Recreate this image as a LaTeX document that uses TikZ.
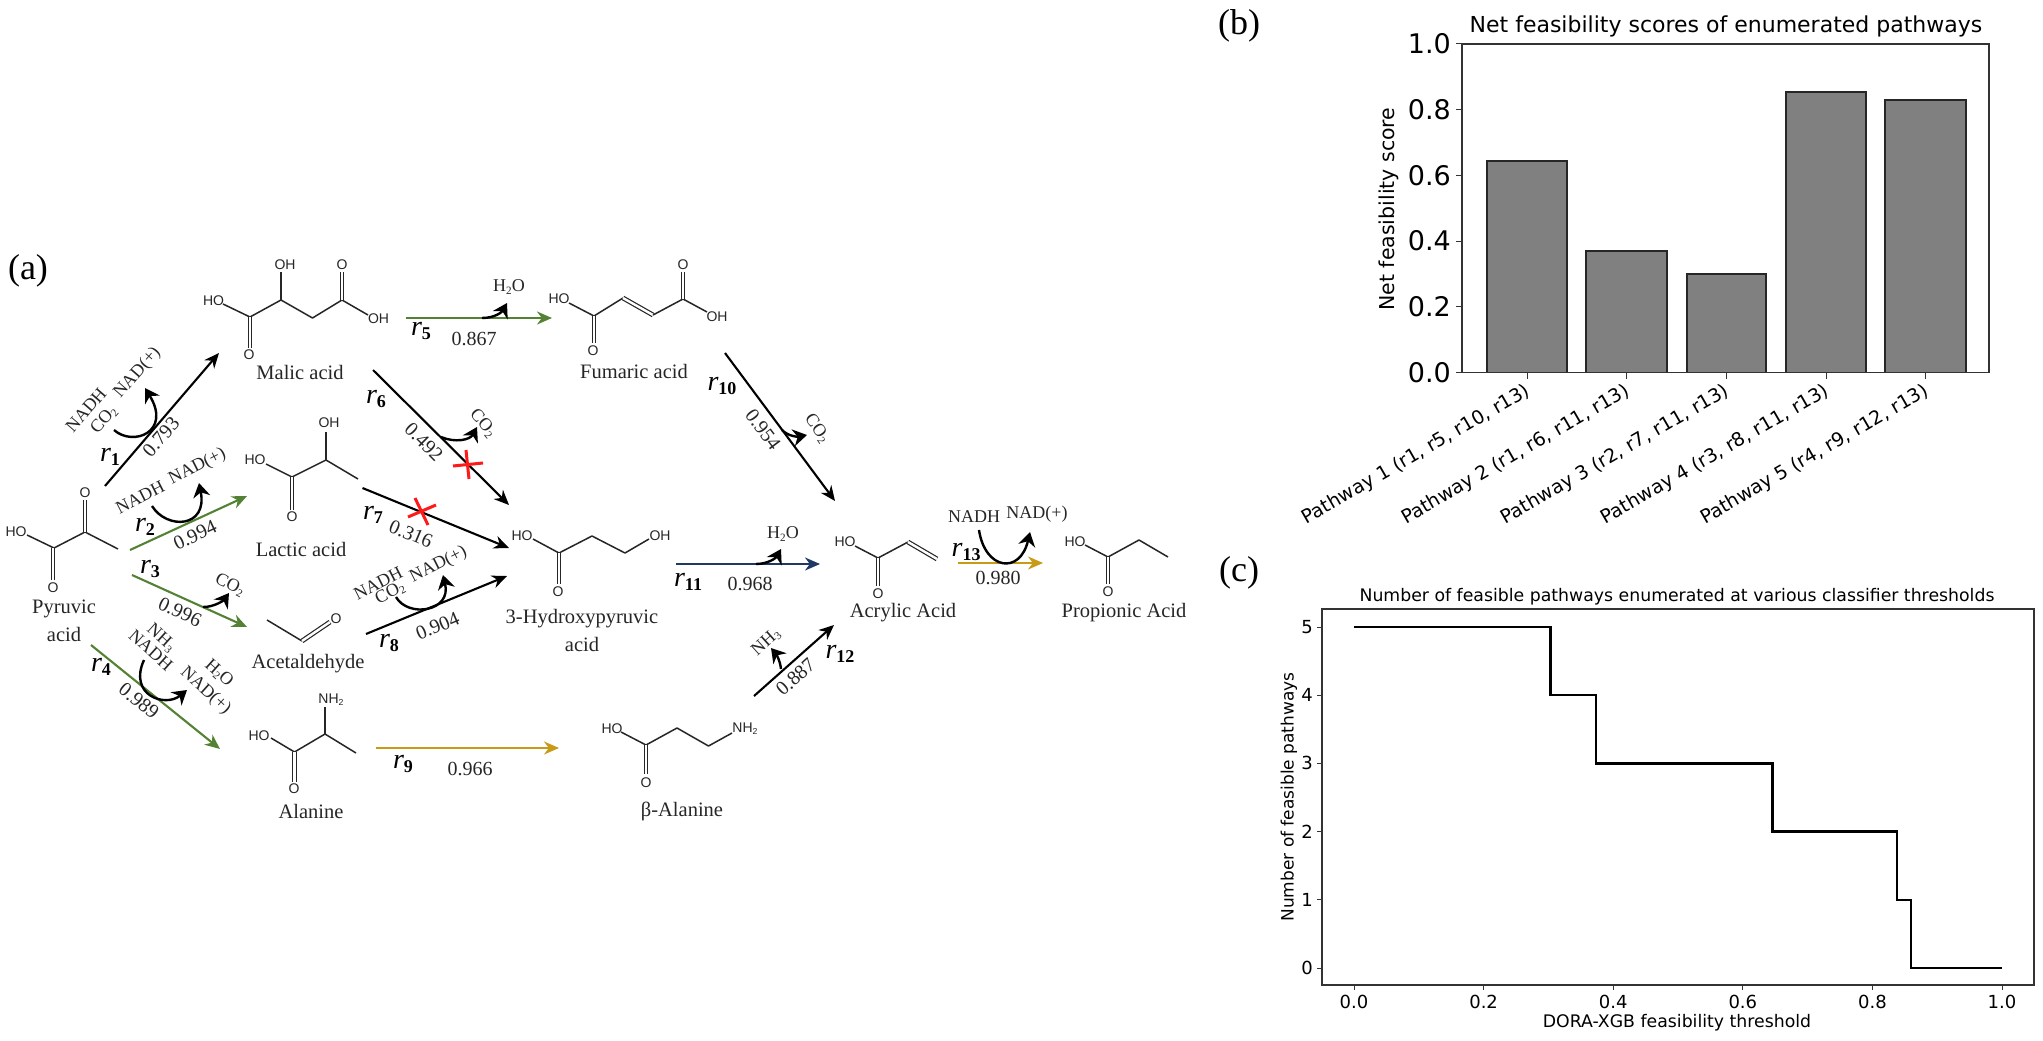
\documentclass[tikz,border=0pt]{standalone}
\usepackage{fontspec}
\setmainfont{Liberation Serif}
\newfontfamily\atomfont{Liberation Sans}
\newfontfamily\chartfont{DejaVu Sans}
\usetikzlibrary{arrows.meta}
\definecolor{rgreen}{HTML}{548235}
\definecolor{rgold}{HTML}{C89B17}
\definecolor{rnavy}{HTML}{1F3864}
\definecolor{rred}{HTML}{FF1A1A}
\definecolor{ink}{HTML}{262626}
\definecolor{barfill}{HTML}{808080}
\newcount\nid
\newcommand{\lab}[5]{\global\advance\nid by 1 \node[#1,rotate=#4] (n\the\nid) at (#2,#3) {#5};}
\newcommand{\lsub}[1]{\raisebox{-.28ex}{\scalebox{.62}{#1}}}
\newcommand{\rlab}[3]{\global\advance\nid by 1 \node[rname] (n\the\nid) at (#1,#2) {\textit{r}\raisebox{-.35ex}{\fontsize{18}{20}\selectfont\bfseries #3}};}
\newcommand{\rxn}[6]{\coordinate (#1a) at (#3,#4); \coordinate (#1b) at (#5,#6); \draw[rarrow,#2] (#1a) -- (#1b);}
\tikzset{
  rarrow/.style={line width=2.1pt,-{Stealth[length=15pt,width=13pt]}},
  carrow/.style={line width=2.4pt,-{Stealth[length=14pt,width=17pt]},black},
  bond/.style={line width=1.5pt,ink,line join=round},
  dbond/.style={bond,double,double distance=2.4pt,line width=1.2pt},
  atom/.style={font=\atomfont\fontsize{14}{15}\selectfont,inner sep=0pt,text=ink},
  cname/.style={font=\fontsize{20.5}{23}\selectfont,inner sep=0pt,text=ink},
  num/.style={font=\fontsize{20}{22}\selectfont,inner sep=0pt,text=ink},
  sp/.style={font=\fontsize{18}{20}\selectfont,inner sep=0pt,text=ink},
  rname/.style={font=\fontsize{28}{30}\selectfont,inner sep=0pt,text=black},
  panel/.style={font=\fontsize{36}{38}\selectfont,inner sep=0pt,text=black},
  cross/.style={line width=3pt,rred},
  spine/.style={line width=1.2pt,black!80},
  tick/.style={line width=1pt,black!80},
  bartick/.style={font=\chartfont\fontsize{27}{29}\selectfont,inner sep=0pt,text=black},
  tit/.style={font=\chartfont\fontsize{22}{24}\selectfont,inner sep=0pt,text=black},
  xrot/.style={font=\chartfont\fontsize{19}{21}\selectfont,inner sep=0pt,text=black,anchor=north east},
  ax/.style={font=\chartfont\fontsize{18}{20}\selectfont,inner sep=0pt,text=black},
  axt/.style={font=\chartfont\fontsize{17.3}{19}\selectfont,inner sep=0pt,text=black},
  bar/.style={fill=barfill,draw=black!85,line width=1.3pt},
  stepline/.style={line width=2.4pt,black,line join=miter},
}
\begin{document}
\begin{tikzpicture}[x=1pt,y=-1pt]
\useasboundingbox (0,0) rectangle (2043,1041);
\fill[white] (0,0) rectangle (2043,1041);
% panel letters
\lab{panel}{28}{271}{0}{(a)}
\lab{panel}{1239}{26}{0}{(b)}
\lab{panel}{1239}{573}{0}{(c)}

% Pyruvic acid
\draw[bond] (27,535) -- (54,548);
\draw[bond] (54,548) -- (85,532) -- (118,549);
\draw[dbond] (85,532) -- (85,500);
\draw[dbond] (53,548) -- (53,580);
\lab{atom}{16}{532}{0}{HO}
\lab{atom}{85}{493}{0}{O}
\lab{atom}{53}{588}{0}{O}
\lab{cname}{64}{609}{0}{Pyruvic}
\lab{cname}{64}{634}{0}{acid}

% Malic acid
\draw[bond] (223,304) -- (250,317) -- (281,300) -- (312.5,318) -- (342,300) -- (368,315);
\draw[bond] (281,300) -- (281,272);
\draw[dbond] (342,300) -- (342,272);
\draw[dbond] (250,317) -- (250,348);
\lab{atom}{213.5}{301}{0}{HO}
\lab{atom}{285}{265}{0}{OH}
\lab{atom}{342}{265}{0}{O}
\lab{atom}{378.5}{319}{0}{OH}
\lab{atom}{249}{355}{0}{O}
\lab{cname}{300}{372}{0}{Malic acid}

% Lactic acid
\draw[bond] (266,464) -- (292,477) -- (326,460) -- (358,479);
\draw[bond] (326,460) -- (326,432);
\draw[dbond] (292,477) -- (292,510);
\lab{atom}{255}{460}{0}{HO}
\lab{atom}{329}{423}{0}{OH}
\lab{atom}{292}{517}{0}{O}
\lab{cname}{301}{549}{0}{Lactic acid}

% Acetaldehyde
\draw[bond] (267,620) -- (302,641);
\draw[dbond] (302,641) -- (330,622);
\lab{atom}{336}{619}{0}{O}
\lab{cname}{308}{664}{0}{Acetaldehyde}

% Alanine
\draw[bond] (271,738) -- (294.5,752) -- (325,734) -- (356,753);
\draw[bond] (325,734) -- (325,707);
\draw[dbond] (294.5,752) -- (294.5,782);
\lab{atom}{259}{736}{0}{HO}
\lab{atom}{331}{700}{0}{NH\lsub{2}}
\lab{atom}{294}{789}{0}{O}
\lab{cname}{311}{811}{0}{Alanine}

% Fumaric acid
\draw[bond] (569,303) -- (594,316);
\draw[bond] (594,316) -- (623,298);
\draw[dbond] (623,298) -- (653,315);
\draw[bond] (653,315) -- (683,299) -- (707,312);
\draw[dbond] (683,299) -- (683,272);
\draw[dbond] (594,316) -- (594,343);
\lab{atom}{559}{299}{0}{HO}
\lab{atom}{683}{265}{0}{O}
\lab{atom}{717}{317}{0}{OH}
\lab{atom}{593}{351}{0}{O}
\lab{cname}{634}{371}{0}{Fumaric acid}

% 3-Hydroxypyruvic acid
\draw[bond] (533,539) -- (559,553) -- (592,536) -- (625,553) -- (649,539);
\draw[dbond] (559,553) -- (559,584);
\lab{atom}{522}{536}{0}{HO}
\lab{atom}{660}{536}{0}{OH}
\lab{atom}{558}{592}{0}{O}
\lab{cname}{582}{619}{0}{3-Hydroxypyruvic}
\lab{cname}{582}{644}{0}{acid}

% beta-Alanine
\draw[bond] (621,732) -- (646,745) -- (677,728) -- (708.5,746) -- (732,733);
\draw[dbond] (646,745) -- (646,774);
\lab{atom}{612}{729}{0}{HO}
\lab{atom}{745}{729}{0}{NH\lsub{2}}
\lab{atom}{646}{783}{0}{O}
\lab{cname}{682}{811}{0}{β-Alanine}

% Acrylic acid
\draw[bond] (855,546) -- (878,558) -- (908,542);
\draw[dbond] (908,542) -- (937,559);
\draw[dbond] (878,558) -- (878,586);
\lab{atom}{845}{542}{0}{HO}
\lab{atom}{878}{594}{0}{O}
\lab{cname}{903}{613}{0}{Acrylic Acid}

% Propionic acid
\draw[bond] (1085,545) -- (1108,557) -- (1139,540) -- (1168,557);
\draw[dbond] (1108,557) -- (1108,584);
\lab{atom}{1075}{542}{0}{HO}
\lab{atom}{1108}{592}{0}{O}
\lab{cname}{1124}{613}{0}{Propionic Acid}

% reactions
\rxn{ra}{black}{105}{486}{219}{353}
\rxn{rb}{rgreen}{130}{550}{247}{496}
\rxn{rc}{rgreen}{132}{575}{247}{627}
\rxn{rd}{rgreen}{91}{645}{220}{749}
\rxn{re}{rgreen}{406}{318}{552}{318}
\rxn{rf}{black}{373}{370}{509}{505}
\rxn{rg}{black}{362.5}{488}{509}{548}
\rxn{rh}{black}{366}{634}{507}{576}
\rxn{ri}{rgold}{376}{748}{559}{748}
\rxn{rj}{black}{725}{353}{835}{501}
\rxn{rk}{rnavy}{676}{564}{820}{564}
\rxn{rl}{black}{754}{696}{834}{625}
\rxn{rm}{rgold}{958}{563}{1043}{563}

% cofactor arrows
\draw[carrow] (114,430) .. controls (133,447) and (172,432) .. (145,388);
\draw[carrow] (152,506) .. controls (167,530) and (208,528) .. (199,483);
\draw[carrow] (396,597) .. controls (408,618) and (452,612) .. (443,575);
\draw[carrow] (144,660) .. controls (128,695) and (165,708) .. (187,690);
\draw[carrow] (979,530) .. controls (985,570) and (1020,575) .. (1030,532);
\draw[carrow] (482,318) .. controls (495,318) and (502,312) .. (507,303);
\draw[carrow] (441,437) .. controls (455,443) and (470,440) .. (477,427);
\draw[carrow] (203,607) .. controls (215,607) and (224,600) .. (229,593);
\draw[carrow] (782,430) .. controls (788,436) and (797,437) .. (807,435);
\draw[carrow] (756,564) .. controls (768,564) and (776,558) .. (781,549);
\draw[carrow] (781,669) .. controls (780,660) and (776,654) .. (771,648);

% red crosses
\draw[cross] (453,466) -- (483,463);
\draw[cross] (466,450) -- (469,479);
\draw[cross] (408,517) -- (436,505);
\draw[cross] (415,498) -- (428,525);

% r labels
\rlab{110}{457}{1}
\rlab{145}{527}{2}
\rlab{150}{569}{3}
\rlab{101}{667}{4}
\rlab{421}{331}{5}
\rlab{376}{399}{6}
\rlab{373}{515}{7}
\rlab{389}{643}{8}
\rlab{403}{764}{9}
\rlab{722}{386}{10}
\rlab{688}{582}{11}
\rlab{840}{654}{12}
\rlab{966}{552}{13}

% scores
\lab{num}{161}{437}{49}{0.793}
\lab{num}{195}{535}{25}{0.994}
\lab{num}{180}{612}{-25}{0.996}
\lab{num}{139}{701}{-39}{0.989}
\lab{num}{474}{339}{0}{0.867}
\lab{num}{424}{442}{-45}{0.492}
\lab{num}{411}{534}{-23}{0.316}
\lab{num}{437.5}{626}{23}{0.904}
\lab{num}{470}{769}{0}{0.966}
\lab{num}{763}{430}{-53}{0.954}
\lab{num}{750}{584}{0}{0.968}
\lab{num}{795.5}{677}{42}{0.887}
\lab{num}{998}{578}{0}{0.980}

% species
\lab{sp}{86}{410}{49}{NADH}
\lab{sp}{104}{420}{49}{CO\lsub{2}}
\lab{sp}{137.5}{373}{49}{NAD(+)}
\lab{sp}{140}{497}{27}{NADH}
\lab{sp}{197.5}{467}{27}{NAD(+)}
\lab{sp}{230}{585}{-27}{CO\lsub{2}}
\lab{sp}{161}{638}{-42}{NH\lsub{3}}
\lab{sp}{151}{650}{-42}{NADH}
\lab{sp}{219}{673}{-42}{H\lsub{2}O}
\lab{sp}{205.5}{691}{-42}{NAD(+)}
\lab{sp}{509}{287}{0}{H\lsub{2}O}
\lab{sp}{483}{423}{-50}{CO\lsub{2}}
\lab{sp}{378}{583}{27}{NADH}
\lab{sp}{390}{593}{27}{CO\lsub{2}}
\lab{sp}{438.5}{565}{27}{NAD(+)}
\lab{sp}{817}{428}{-55}{CO\lsub{2}}
\lab{sp}{783}{534}{0}{H\lsub{2}O}
\lab{sp}{766}{642}{42}{NH\lsub{3}}
\lab{sp}{974}{517}{0}{NADH}
\lab{sp}{1037}{514}{0}{NAD(+)}

% panel b
\foreach \xa/\xb/\yt in {1487/1567/161,1586/1667/251,1687/1766/274,1786/1866/92,1885/1966/100}
  \draw[bar] (\xa,372.5) rectangle (\xb,\yt);
\draw[spine] (1462,44) rectangle (1989,372.5);
\foreach \yy/\tl in {372.5/0.0,306.8/0.2,241.1/0.4,175.4/0.6,109.7/0.8,44/1.0}{
  \draw[tick] (1462,\yy) -- (1456,\yy);
  \global\advance\nid by 1
  \node[bartick,anchor=east] (n\the\nid) at (1451,\yy) {\tl};
}
\foreach \xx in {1527,1626.5,1726,1826,1925.5}
  \draw[tick] (\xx,372.5) -- (\xx,379);
\lab{tit}{1726}{26}{0}{Net feasibility scores of enumerated pathways}
\lab{axt,font=\chartfont\fontsize{20.5}{22}\selectfont}{1389}{209}{90}{Net feasibility score}
\lab{xrot}{1524}{382}{30}{Pathway 1 (r1, r5, r10, r13)}
\lab{xrot}{1623.5}{382}{30}{Pathway 2 (r1, r6, r11, r13)}
\lab{xrot}{1723}{382}{30}{Pathway 3 (r2, r7, r11, r13)}
\lab{xrot}{1823}{382}{30}{Pathway 4 (r3, r8, r11, r13)}
\lab{xrot}{1922.5}{382}{30}{Pathway 5 (r4, r9, r12, r13)}

% panel c
\draw[spine] (1322,609) rectangle (2034,985);
\foreach \yy/\tl in {968/0,899.8/1,831.6/2,763.4/3,695.2/4,627/5}{
  \draw[tick] (1322,\yy) -- (1317,\yy);
  \global\advance\nid by 1
  \node[ax,anchor=east] (n\the\nid) at (1313,\yy) {\tl};
}
\foreach \xx/\tl in {1354/0.0,1483.6/0.2,1613.2/0.4,1742.8/0.6,1872.4/0.8,2002/1.0}{
  \draw[tick] (\xx,985) -- (\xx,990);
  \global\advance\nid by 1
  \node[ax] (n\the\nid) at (\xx,1002) {\tl};
}
\draw[stepline] (1354,627) -- (1550.5,627) -- (1550.5,695.2) -- (1596,695.2) -- (1596,763.4) -- (1772.6,763.4) -- (1772.6,831.6) -- (1897,831.6) -- (1897,899.8) -- (1911,899.8) -- (1911,968) -- (2002,968);
\lab{axt}{1677}{597}{0}{Number of feasible pathways enumerated at various classifier thresholds}
\lab{axt}{1677}{1023}{0}{DORA-XGB feasibility threshold}
\lab{axt,font=\chartfont\fontsize{17}{19}\selectfont}{1289}{797}{90}{Number of feasible pathways}
\end{tikzpicture}
\end{document}
